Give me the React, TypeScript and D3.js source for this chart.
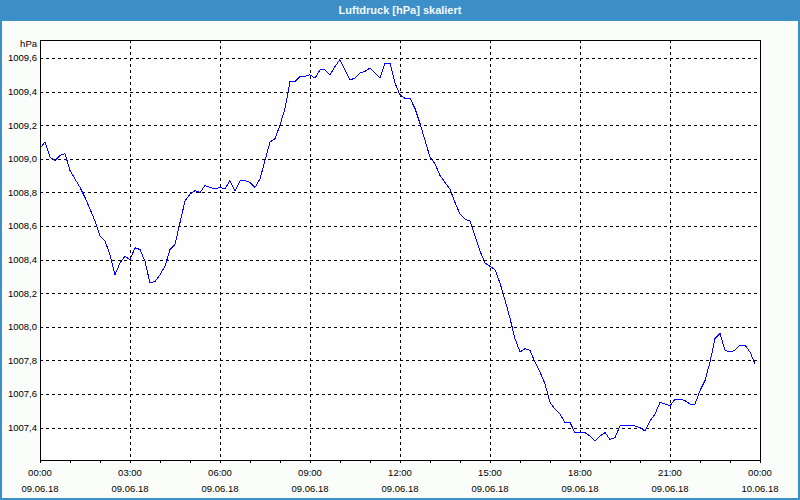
import React from "react";
import * as d3 from "d3";

const title = "Luftdruck [hPa] skaliert";
const unit = "hPa";
// Pressure readings every 10 minutes from 09.06.18 00:00
const pressure: number[] = [
  1009.06, 1009.10, 1009.01, 1008.99, 1009.02, 1009.03, 1008.93, 1008.88, 1008.83, 1008.77,
  1008.70, 1008.63, 1008.54, 1008.51, 1008.43, 1008.31, 1008.38, 1008.42, 1008.40, 1008.47,
  1008.46, 1008.39, 1008.26, 1008.27, 1008.31, 1008.36, 1008.46, 1008.49, 1008.62, 1008.75,
  1008.79, 1008.81, 1008.80, 1008.84, 1008.83, 1008.82, 1008.83, 1008.82, 1008.87, 1008.81,
  1008.87, 1008.87, 1008.86, 1008.83, 1008.88, 1008.99, 1009.10, 1009.12, 1009.20, 1009.30,
  1009.46, 1009.46, 1009.49, 1009.49, 1009.50, 1009.48, 1009.53, 1009.53, 1009.50, 1009.55,
  1009.59, 1009.53, 1009.47, 1009.48, 1009.51, 1009.52, 1009.54, 1009.51, 1009.48, 1009.57,
  1009.57, 1009.45, 1009.38, 1009.36, 1009.36, 1009.30, 1009.21, 1009.11, 1009.01, 1008.97,
  1008.90, 1008.86, 1008.82, 1008.74, 1008.67, 1008.64, 1008.63, 1008.54, 1008.45, 1008.38,
  1008.36, 1008.34, 1008.26, 1008.16, 1008.05, 1007.93, 1007.85, 1007.87, 1007.86, 1007.79,
  1007.73, 1007.66, 1007.55, 1007.51, 1007.48, 1007.43, 1007.43, 1007.37, 1007.37, 1007.37,
  1007.35, 1007.32, 1007.35, 1007.37, 1007.33, 1007.34, 1007.41, 1007.41, 1007.41, 1007.41,
  1007.40, 1007.38, 1007.44, 1007.48, 1007.55, 1007.54, 1007.53, 1007.57, 1007.57, 1007.56,
  1007.54, 1007.54, 1007.62, 1007.68, 1007.79, 1007.93, 1007.96, 1007.86, 1007.85, 1007.86,
  1007.89, 1007.89, 1007.85, 1007.78,
];
const stepMinutes = 10;
const yTicks = [1007.4, 1007.6, 1007.8, 1008.0, 1008.2, 1008.4, 1008.6, 1008.8, 1009.0, 1009.2, 1009.4, 1009.6];
const xTickTimes = ["00:00", "03:00", "06:00", "09:00", "12:00", "15:00", "18:00", "21:00", "00:00"];
const xTickDates = ["09.06.18", "09.06.18", "09.06.18", "09.06.18", "09.06.18", "09.06.18", "09.06.18", "09.06.18", "10.06.18"];

const W = 800, H = 500;
const L = 40, R = 760, T = 40, B = 460;
const FONT = "Liberation Sans, Arial, sans-serif";

export default function App() {
  const x = d3.scaleLinear().domain([0, 1440]).range([L, R]);
  const y = d3.scaleLinear().domain([1007.2071, 1009.7071]).range([B, T]);
  const line = d3
    .line<number>()
    .x((_, i) => x(i * stepMinutes))
    .y((d) => y(d));
  const hourTicks = d3.range(0, 1441, 60);
  const labelTicks = d3.range(0, 1441, 180);
  const fmt = (v: number) => v.toFixed(1).replace(".", ",");

  return (
    <svg width={W} height={H} style={{ position: "absolute", left: 0, top: 0 }}>
      <rect x={0} y={0} width={W} height={H} fill="#3c8fc7" />
      <rect x={2} y={21} width={W - 4} height={H - 23} fill="#fbfdfb" />
      <text x={W / 2} y={14} textAnchor="middle" fill="#f4f8fb" fontFamily={FONT} fontSize={11} fontWeight="bold">
        {title}
      </text>
      <rect x={L} y={T} width={R - L} height={B - T} fill="#fdfefd" />
      <g shapeRendering="crispEdges" stroke="#000" strokeDasharray="3,3">
        {yTicks.map((t) => (
          <line key={"gy" + t} x1={L} x2={R} y1={Math.round(y(t)) + 0.5} y2={Math.round(y(t)) + 0.5} />
        ))}
        {labelTicks.slice(1, -1).map((t) => (
          <line key={"gx" + t} x1={Math.round(x(t)) + 0.5} x2={Math.round(x(t)) + 0.5} y1={T} y2={B} />
        ))}
      </g>
      <path d={line(pressure) || ""} fill="none" stroke="#0000ff" strokeWidth={1} shapeRendering="crispEdges" />
      <rect x={L + 0.5} y={T + 0.5} width={R - L} height={B - T} fill="none" stroke="#000" shapeRendering="crispEdges" />
      <g shapeRendering="crispEdges" stroke="#000">
        {hourTicks.map((t) => (
          <line key={"t" + t} x1={Math.round(x(t)) + 0.5} x2={Math.round(x(t)) + 0.5} y1={B} y2={B + 3} />
        ))}
      </g>
      <g fontFamily={FONT} fontSize={9.5} fill="#000">
        <text x={37} y={47} textAnchor="end">{unit}</text>
        {yTicks.map((t) => (
          <text key={"ly" + t} x={37} y={y(t) + 3.5} textAnchor="end">
            {fmt(t)}
          </text>
        ))}
        {labelTicks.map((t, i) => (
          <g key={"lx" + t}>
            <text x={x(t)} y={476} textAnchor="middle">{xTickTimes[i]}</text>
            <text x={x(t)} y={492} textAnchor="middle">{xTickDates[i]}</text>
          </g>
        ))}
      </g>
    </svg>
  );
}
